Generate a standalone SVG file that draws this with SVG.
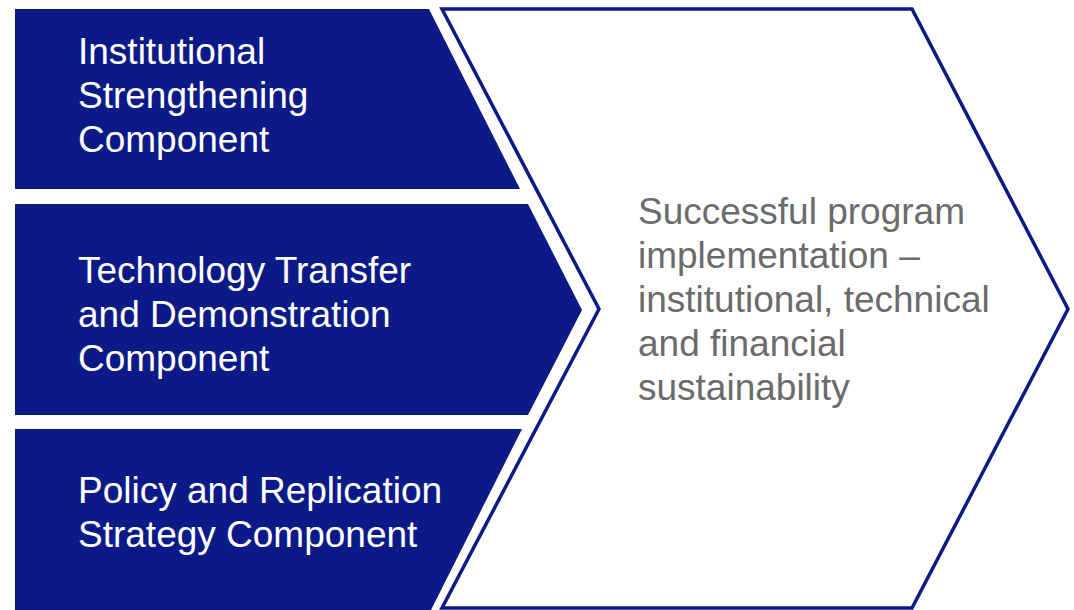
<svg xmlns="http://www.w3.org/2000/svg" width="1074" height="610" viewBox="0 0 1074 610">
<style>
.box{fill:#0c1a88;}
.out{fill:#ffffff;stroke:#0c1a88;stroke-width:3.5;stroke-linejoin:miter;}
.lt{font-family:"Liberation Sans",Arial,sans-serif;font-size:37px;fill:#ffffff;}
.rt{font-family:"Liberation Sans",Arial,sans-serif;font-size:37px;fill:#6b6b6b;}
</style>
<rect width="1074" height="610" fill="#ffffff"/>
<g id="outcome">
<polygon class="out" points="442,9 912,9 1068,309 912,608 442,608 599,309"/>
<text class="rt"><tspan x="638" y="224">Successful program</tspan><tspan x="638" y="268">implementation –</tspan><tspan x="638" y="312">institutional, technical</tspan><tspan x="638" y="356">and financial</tspan><tspan x="638" y="400">sustainability</tspan></text>
</g>
<g id="institutional">
<polygon class="box" points="15,9 429,9 520,189 15,189"/>
<text class="lt"><tspan x="78" y="64">Institutional</tspan><tspan x="78" y="108">Strengthening</tspan><tspan x="78" y="152">Component</tspan></text>
</g>
<g id="technology">
<polygon class="box" points="15,204 528,204 582,310 528,415 15,415"/>
<text class="lt"><tspan x="78" y="283">Technology Transfer</tspan><tspan x="78" y="327">and Demonstration</tspan><tspan x="78" y="371">Component</tspan></text>
</g>
<g id="policy">
<polygon class="box" points="15,429 522,429 430,612 15,612"/>
<text class="lt"><tspan x="78" y="503">Policy and Replication</tspan><tspan x="78" y="547">Strategy Component</tspan></text>
</g>
<g id="connectors"></g>
</svg>
